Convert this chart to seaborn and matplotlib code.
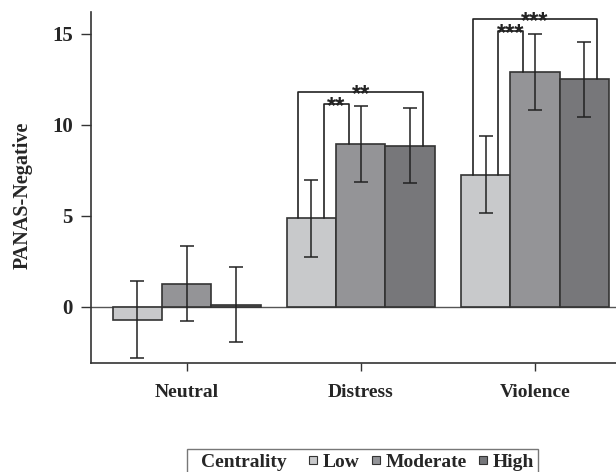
import matplotlib
matplotlib.use("Agg")
import matplotlib.pyplot as plt
from matplotlib.lines import Line2D
import seaborn as sns
import pandas as pd

# Data
conditions = ["Neutral", "Distress", "Violence"]
centrality = ["Low", "Moderate", "High"]
means_low = [-0.70, 4.87, 7.27]
means_mod = [1.27, 8.94, 12.90]
means_high = [0.12, 8.85, 12.50]
err_low = [2.10, 2.12, 2.10]
err_mod = [2.05, 2.07, 2.08]
err_high = [2.06, 2.07, 2.07]

# significance brackets: condition, group a, group b, height, stars
brackets = [
    ("Distress", "Low", "Moderate", 11.17, "**"),
    ("Distress", "Low", "High", 11.83, "**"),
    ("Violence", "Low", "Moderate", 15.16, "***"),
    ("Violence", "Low", "High", 15.80, "***"),
]

colors = ["#c8c9cb", "#939498", "#76777b"]
edge = "#333333"

rows = []
for i, c in enumerate(conditions):
    for lvl, m, e in zip(centrality, [means_low, means_mod, means_high], [err_low, err_mod, err_high]):
        rows.append({"condition": c, "centrality": lvl, "value": m[i], "err": e[i]})
df = pd.DataFrame(rows)

sns.set_style("white")
plt.rcParams["font.family"] = ["Liberation Serif", "DejaVu Serif"]
plt.rcParams["font.weight"] = "bold"

fig = plt.figure(figsize=(6.16, 4.72), dpi=100)
ax = fig.add_axes([0.1477, 0.2309, 0.8523, 0.7437])

sns.barplot(data=df, x="condition", y="value", hue="centrality", order=conditions,
            hue_order=centrality, palette=colors, width=0.85, errorbar=None,
            edgecolor=edge, linewidth=1.2, legend=False, ax=ax)

# error bars and bar geometry lookup
centers = {}
for lvl, cont in zip(centrality, ax.containers):
    for c, bar in zip(conditions, cont):
        xc = bar.get_x() + bar.get_width() / 2
        row = df[(df.condition == c) & (df.centrality == lvl)].iloc[0]
        centers[(c, lvl)] = (xc, row.value)
        ax.errorbar(xc, row.value, yerr=row.err, color="#222222", lw=1.1,
                    capsize=5, capthick=1.1, zorder=4)

ax.axhline(0, color="#555555", lw=1.0, zorder=0.5)

# brackets
for c, a, b, h, stars in brackets:
    xa, ya = centers[(c, a)]
    xb, yb = centers[(c, b)]
    outer = b == "High"
    off = 0.075 if outer else -0.07
    x0, x1 = xa - off, xb + off
    ax.plot([x0, x0, x1, x1], [ya, h, h, yb], color="#222222", lw=1.2, zorder=5)
    ax.annotate(stars, xy=((x0 + x1) / 2, h), xytext=(0, -6.5), textcoords="offset points",
                ha="center", va="baseline", fontsize=17, fontweight="bold", color="#222222",
                family=["Liberation Sans", "DejaVu Sans"])

ax.set_xlim(-0.55, 2.466)
ax.set_ylim(-3.08, 16.2)
ax.set_yticks([0, 5, 10, 15])
ax.set_xlabel("")
ax.set_ylabel("PANAS-Negative", fontsize=14.5, fontweight="bold")
ax.yaxis.set_label_coords(-0.111, 0.477)
ax.tick_params(axis="y", direction="out", length=7, width=1, color=edge, pad=6, labelsize=15, left=True)
ax.tick_params(axis="x", direction="out", length=6, width=1, color=edge, pad=9, labelsize=14, bottom=True)
for lab in ax.get_xticklabels() + ax.get_yticklabels():
    lab.set_fontweight("bold")
sns.despine(ax=ax, right=True, top=True)
for s in ["left", "bottom"]:
    ax.spines[s].set_color(edge)
    ax.spines[s].set_linewidth(1.2)

# inline legend: title as first entry with no marker
handles = [Line2D([], [], ls="none", marker="none")] + [
    Line2D([], [], ls="none", marker="s", markersize=6, markerfacecolor=col,
           markeredgecolor=edge, markeredgewidth=0.8) for col in colors]
labels = ["Centrality  "] + centrality
leg = fig.legend(handles, labels, loc="upper left", bbox_to_anchor=(187 / 616, 0.0487),
                 ncol=4, frameon=True, fancybox=False, handlelength=0, numpoints=1,
                 handletextpad=0.5, columnspacing=0.85, borderpad=0.2, borderaxespad=0,
                 prop={"size": 14, "weight": "bold"})
leg.get_frame().set_edgecolor("#555555")
leg.get_frame().set_linewidth(1.0)

fig.savefig("out.png", dpi=100)
